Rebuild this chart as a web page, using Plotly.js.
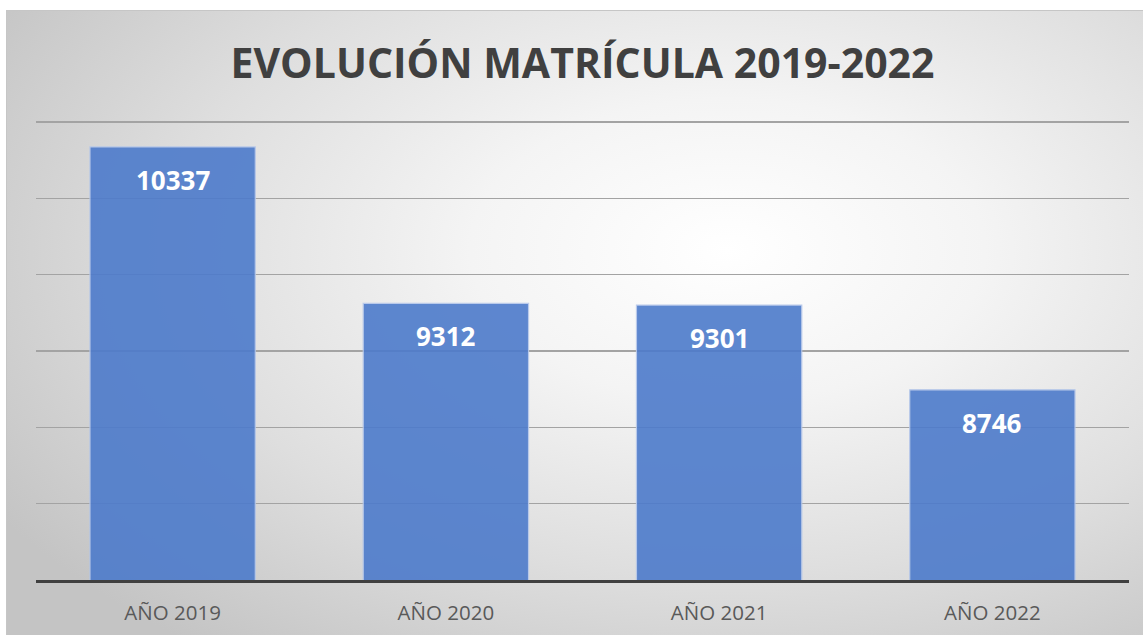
<!DOCTYPE html>
<html>
<head>
<meta charset="utf-8">
<script src="https://cdn.plot.ly/plotly-3.0.1.min.js"></script>
<style>
  html, body { margin:0; padding:0; background:#ffffff; }
  #wrap { position:relative; width:1143px; height:635px; overflow:hidden; }
  #bg { position:absolute; left:6px; top:10px; width:1145px; height:630px;
        box-sizing:border-box; border-top:1px solid #c6c6c6; border-left:1px solid #c6c6c6;
        background: radial-gradient(ellipse 75% 80% at 63% 38%, #ffffff 0%, #f4f4f4 30%, #dedede 65%, #c4c4c4 100%); }
  #chart { position:absolute; left:0; top:0; width:1143px; height:635px; }
</style>
</head>
<body>
<div id="wrap"><div id="bg"></div><div id="chart"></div></div>
<script>
const categories = ["AÑO 2019", "AÑO 2020", "AÑO 2021", "AÑO 2022"];
const matricula = [10337, 9312, 9301, 8746];
const chartTitle = "EVOLUCIÓN MATRÍCULA 2019-2022";

const trace = {
  type: "bar",
  x: categories,
  y: matricula,
  marker: { color: "#4d7bcb", opacity: 0.9, line: { color: "#b4c6ea", width: 1.2 } },
  hoverinfo: "x+y"
};

const annotations = categories.map((c, i) => ({
  x: c, y: matricula[i], xref: "x", yref: "y",
  text: "<b>" + matricula[i] + "</b>",
  showarrow: false, yanchor: "middle", yshift: -33,
  font: { family: "Open Sans, sans-serif", size: 26, color: "#ffffff" }
}));

const layout = {
  width: 1143, height: 635,
  margin: { l: 36, r: 14, t: 119, b: 55 },
  paper_bgcolor: "rgba(0,0,0,0)",
  plot_bgcolor: "rgba(0,0,0,0)",
  showlegend: false,
  bargap: 0.395,
  title: {
    text: "<b>" + chartTitle + "</b>",
    x: 0.5, xref: "paper", xanchor: "center",
    y: 0.9, yref: "container", yanchor: "middle",
    font: { family: "Open Sans, sans-serif", size: 41, color: "#404040" }
  },
  xaxis: {
    type: "category",
    showline: true, linecolor: "#404040", linewidth: 3,
    showgrid: false, ticks: "",
    ticklabelstandoff: 12,
    tickfont: { family: "Open Sans, sans-serif", size: 20.5, color: "#595959" }
  },
  yaxis: {
    range: [7500, 10520], dtick: 500, tick0: 7500,
    showticklabels: false, ticks: "",
    showgrid: true, gridcolor: "#a3a3a3", gridwidth: 1.5,
    zeroline: false, showline: false
  },
  annotations: annotations
};

Plotly.newPlot("chart", [trace], layout, { displayModeBar: false, staticPlot: true });
</script>
</body>
</html>
